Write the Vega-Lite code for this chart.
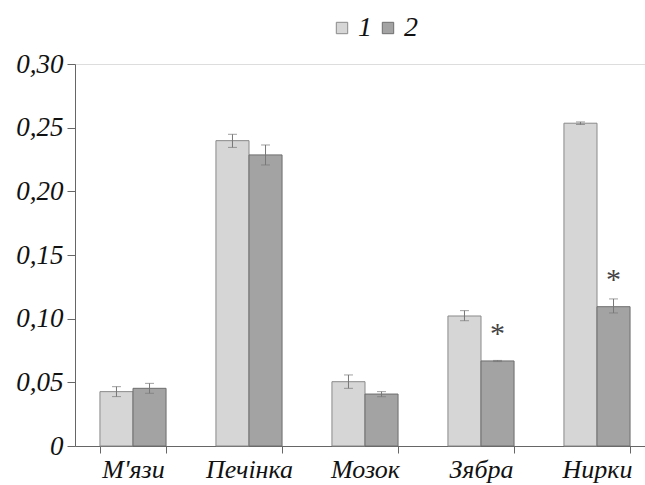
{
  "$schema": "https://vega.github.io/schema/vega-lite/v6.json",
  "autosize": {"type": "none"},
  "padding": {"left": 75, "top": 64, "right": 0, "bottom": 39},
  "width": 570,
  "height": 382,
  "background": "white",
  "data": {
    "values": [
      {"cat": "М'язи", "group": "1", "value": 0.0427, "lo": 0.0388, "hi": 0.0466, "sig": ""},
      {"cat": "М'язи", "group": "2", "value": 0.0453, "lo": 0.0414, "hi": 0.0492, "sig": ""},
      {"cat": "Печінка", "group": "1", "value": 0.2398, "lo": 0.2345, "hi": 0.2448, "sig": ""},
      {"cat": "Печінка", "group": "2", "value": 0.2286, "lo": 0.2207, "hi": 0.2364, "sig": ""},
      {"cat": "Мозок", "group": "1", "value": 0.0505, "lo": 0.0453, "hi": 0.0558, "sig": ""},
      {"cat": "Мозок", "group": "2", "value": 0.0408, "lo": 0.0387, "hi": 0.0427, "sig": ""},
      {"cat": "Зябра", "group": "1", "value": 0.1021, "lo": 0.0984, "hi": 0.1063, "sig": ""},
      {"cat": "Зябра", "group": "2", "value": 0.0668, "lo": 0.0663, "hi": 0.0672, "sig": "*"},
      {"cat": "Нирки", "group": "1", "value": 0.2535, "lo": 0.2525, "hi": 0.2545, "sig": ""},
      {"cat": "Нирки", "group": "2", "value": 0.1094, "lo": 0.1045, "hi": 0.1155, "sig": "*"}
    ]
  },
  "encoding": {
    "x": {
      "field": "cat", "type": "nominal", "sort": null, "title": null,
      "scale": {"range": [0, 580], "paddingInner": 0.43, "paddingOuter": 0.215},
      "axis": {
        "labelAngle": 0, "labelFont": "Liberation Serif", "labelFontStyle": "italic",
        "labelFontSize": 26, "labelColor": "#111", "labelPadding": 3,
        "tickBand": "extent", "tickSize": 7, "tickColor": "#666", "domainColor": "#666",
        "grid": false
      }
    },
    "xOffset": {"field": "group", "type": "nominal", "scale": {"paddingInner": 0, "paddingOuter": 0}}
  },
  "layer": [
    {
      "mark": {"type": "bar", "strokeWidth": 1},
      "encoding": {
        "y": {
          "field": "value", "type": "quantitative", "title": null,
          "scale": {"domain": [0, 0.3], "nice": false, "zero": true},
          "axis": {
            "values": [0, 0.05, 0.1, 0.15, 0.2, 0.25, 0.3],
            "labelExpr": "datum.value == 0 ? '0' : replace(format(datum.value, '.2f'), '.', ',')",
            "labelFont": "Liberation Serif", "labelFontStyle": "italic", "labelFontSize": 27,
            "labelColor": "#111", "labelPadding": 4, "tickSize": 8, "tickColor": "#666",
            "domainColor": "#666", "grid": false
          }
        },
        "fill": {
          "field": "group", "type": "nominal",
          "scale": {"domain": ["1", "2"], "range": ["#d6d6d6", "#a3a3a3"]},
          "legend": {
            "title": null, "orient": "none", "legendX": 253, "legendY": -50,
            "direction": "horizontal", "symbolType": "square", "symbolSize": 130,
            "symbolStrokeColor": "#888", "symbolStrokeWidth": 1,
            "labelFont": "Liberation Serif", "labelFontStyle": "italic", "labelFontSize": 28,
            "labelColor": "#111", "columnPadding": 2, "labelOffset": 2
          }
        },
        "stroke": {
          "field": "group", "type": "nominal",
          "scale": {"domain": ["1", "2"], "range": ["#8a8a8a", "#6e6e6e"]},
          "legend": null
        }
      }
    },
    {
      "mark": {"type": "rule", "color": "#777", "strokeWidth": 1},
      "encoding": {
        "y": {"field": "lo", "type": "quantitative"},
        "y2": {"field": "hi"}
      }
    },
    {
      "mark": {"type": "tick", "color": "#777", "size": 9, "thickness": 1, "orient": "horizontal"},
      "encoding": {"y": {"field": "lo", "type": "quantitative"}}
    },
    {
      "mark": {"type": "tick", "color": "#777", "size": 9, "thickness": 1, "orient": "horizontal"},
      "encoding": {"y": {"field": "hi", "type": "quantitative"}}
    },
    {
      "mark": {"type": "text", "font": "Liberation Serif", "fontSize": 30, "color": "#444", "baseline": "middle", "dy": -27},
      "encoding": {
        "y": {"field": "value", "type": "quantitative"},
        "text": {"field": "sig"}
      }
    }
  ]
}
